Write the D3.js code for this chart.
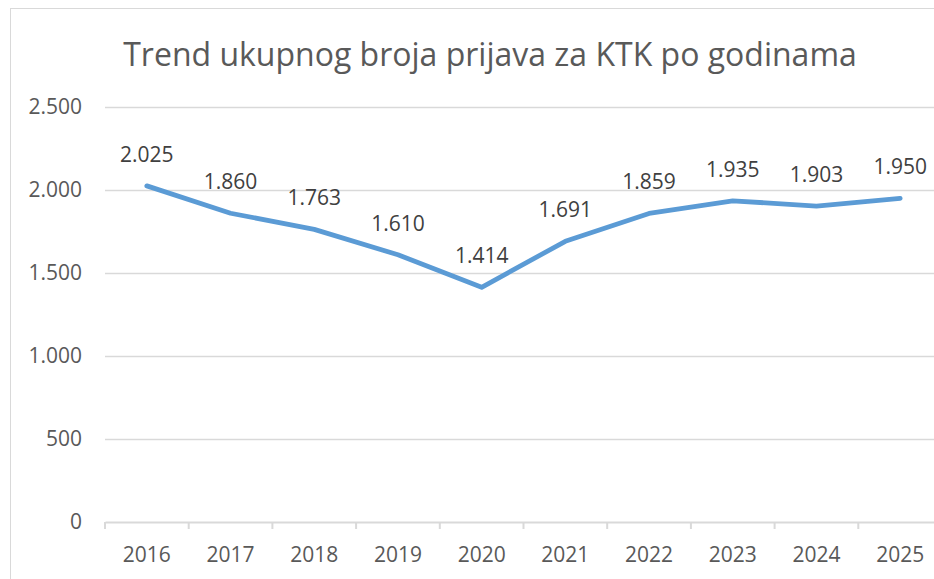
<!DOCTYPE html>
<html><head><meta charset="utf-8">
<script src="https://cdn.jsdelivr.net/npm/d3@7"></script>
<style>body{margin:0;background:#fff}svg{display:block}text{font-family:"Open Sans",sans-serif}</style>
</head><body>
<svg id="c" width="934" height="579"></svg>
<script>
const years = ["2016","2017","2018","2019","2020","2021","2022","2023","2024","2025"];
const values = [2025,1860,1763,1610,1414,1691,1859,1935,1903,1950];
const yTicks = [0,500,1000,1500,2000,2500];
const title = "Trend ukupnog broja prijava za KTK po godinama";

const svg = d3.select("#c");
const fmt = v => d3.format(",")(v).replace(/,/g, ".");
svg.append("rect").attr("x",10.5).attr("y",8.5).attr("width",1000).attr("height",1000)
  .attr("fill","#fff").attr("stroke","#d9d9d9").attr("stroke-width",1);

const L=105, R=942, T=107, B=522;
const x = d3.scaleBand().domain(years).range([L,R]);
const y = d3.scaleLinear().domain([0,2500]).range([B,T]);

svg.append("text").attr("x",490).attr("y",66).attr("text-anchor","middle")
  .attr("font-size",32).attr("fill","#595959").text(title);

const g = svg.append("g");
g.selectAll("line.grid").data(yTicks.filter(d=>d>0)).join("line")
  .attr("x1",L).attr("x2",R).attr("y1",d=>Math.round(y(d))+0.5).attr("y2",d=>Math.round(y(d))+0.5)
  .attr("stroke","#d9d9d9").attr("stroke-width",1.3);

const yAxis = svg.append("g").attr("transform",`translate(${L},0)`)
  .call(d3.axisLeft(y).tickValues(yTicks).tickFormat(fmt).tickSize(0).tickPadding(23));
yAxis.select(".domain").remove();
yAxis.selectAll("text").attr("font-size",21).attr("fill","#595959").attr("font-family","Open Sans");

const xAxis = svg.append("g").attr("transform",`translate(0,${B})`)
  .call(d3.axisBottom(x).tickSize(0).tickPadding(25));
xAxis.select(".domain").attr("stroke","#d9d9d9").attr("stroke-width",2);
xAxis.selectAll("text").attr("font-size",21).attr("fill","#595959").attr("font-family","Open Sans");
const bounds = d3.range(years.length+1).map(i=>L+i*x.step());
svg.append("g").selectAll("line").data(bounds).join("line")
  .attr("x1",d=>d).attr("x2",d=>d).attr("y1",B).attr("y2",B+7)
  .attr("stroke","#d9d9d9").attr("stroke-width",2);

const line = d3.line().x((d,i)=>x(years[i])+x.bandwidth()/2).y(d=>y(d));
svg.append("path").datum(values).attr("d",line).attr("fill","none")
  .attr("stroke","#5b9bd5").attr("stroke-width",4.8).attr("stroke-linejoin","round").attr("stroke-linecap","round");

svg.append("g").selectAll("text").data(values).join("text")
  .attr("x",(d,i)=>x(years[i])+x.bandwidth()/2).attr("y",d=>y(d)-24)
  .attr("text-anchor","middle").attr("font-size",21).attr("fill","#404040").text(fmt);
</script>
</body></html>
